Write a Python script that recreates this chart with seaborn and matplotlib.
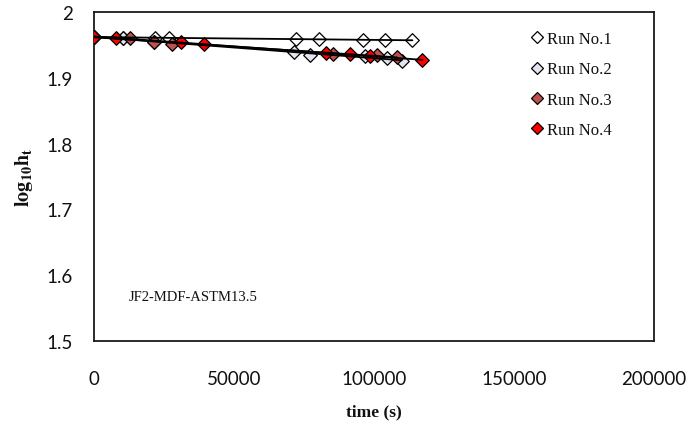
import matplotlib
matplotlib.use("Agg")
import matplotlib.pyplot as plt
from matplotlib.lines import Line2D
import numpy as np
import pandas as pd
import seaborn as sns

# Falling-head runs: elapsed time (s) and log10 of head
run1_t = [0, 10400, 21700, 26800, 72200, 80400, 96200, 103900, 113700]
run1_h = [1.962, 1.961, 1.961, 1.961, 1.959, 1.959, 1.958, 1.957, 1.957]

run2_t = [0, 10500, 21500, 71400, 77000, 96800, 104500, 109900]
run2_h = [1.962, 1.960, 1.955, 1.939, 1.935, 1.933, 1.930, 1.925]

run3_t = [0, 12700, 21400, 27800, 85500, 101000, 108200]
run3_h = [1.962, 1.960, 1.955, 1.952, 1.936, 1.935, 1.931]

run4_t = [0, 7700, 31000, 39400, 82800, 91400, 98600, 117300]
run4_h = [1.962, 1.961, 1.954, 1.952, 1.937, 1.936, 1.933, 1.927]

run_names = ["Run No.1", "Run No.2", "Run No.3", "Run No.4"]
run_colors = ["#FFFFFF", "#E4E4F0", "#C0504D", "#FF0000"]

x_ticks = [0, 50000, 100000, 150000, 200000]
y_ticks = [1.5, 1.6, 1.7, 1.8, 1.9, 2.0]
y_tick_labels = ["1.5", "1.6", "1.7", "1.8", "1.9", "2"]

sns.set_theme(style="white")
plt.rcParams["mathtext.fontset"] = "stix"

frames = []
for name, t, h in zip(run_names, [run1_t, run2_t, run3_t, run4_t],
                      [run1_h, run2_h, run3_h, run4_h]):
    frames.append(pd.DataFrame({"time": t, "logh": h, "run": name}))
df = pd.concat(frames, ignore_index=True)

fig = plt.figure(figsize=(6.95, 4.35), dpi=100)
ax = fig.add_axes([0.1353, 0.2138, 0.8057, 0.7562])

palette = dict(zip(run_names, run_colors))
for name in run_names:
    sub = df[df["run"] == name]
    sns.scatterplot(data=sub, x="time", y="logh", marker="D", s=48,
                    color=palette[name], edgecolor="black", linewidth=0.9,
                    ax=ax, zorder=3, legend=False)

# Linear trend lines for each run
for name in run_names:
    sub = df[df["run"] == name]
    sns.regplot(data=sub, x="time", y="logh", scatter=False, ci=None,
                truncate=True, ax=ax,
                line_kws={"color": "black", "linewidth": 1.3, "zorder": 4})

ax.set_xlim(0, 200000)
ax.set_ylim(1.5, 2.0)
ax.set_xticks(x_ticks)
ax.set_xticklabels([str(v) for v in x_ticks])
ax.set_yticks(y_ticks)
ax.set_yticklabels(y_tick_labels)

for s in ax.spines.values():
    s.set_visible(True)
    s.set_color("#1a1a1a")
    s.set_linewidth(1.3)

ax.tick_params(axis="both", which="major", direction="out", length=4,
               width=0.8, color="#888888", labelsize=13.5,
               labelcolor="#111111")
ax.tick_params(axis="x", pad=17)
ax.tick_params(axis="y", pad=11.5)
for lab in ax.get_xticklabels() + ax.get_yticklabels():
    lab.set_family("Lato")

ax.set_xlabel("time (s)", family="Liberation Serif", fontweight="bold",
              fontsize=12.5, labelpad=12, color="#111111")
ax.set_ylabel(r"$\mathbf{log_{10}h_t}$", fontsize=14.5, labelpad=8,
              color="#111111")

ax.text(12500, 1.567, "JF2-MDF-ASTM13.5", family="Liberation Serif",
        fontsize=10.5, color="#111111", va="center", ha="left")

handles = [Line2D([], [], linestyle="none", marker="D", markersize=6.5,
                  markerfacecolor=c, markeredgecolor="black",
                  markeredgewidth=0.9)
           for c in run_colors]
leg = ax.legend(handles, run_names, loc="upper left",
                bbox_to_anchor=(0.75, 0.987), frameon=False,
                prop={"family": "Liberation Serif", "size": 12},
                handletextpad=0.05, labelspacing=0.85, handlelength=1.0)
for t in leg.get_texts():
    t.set_color("#111111")

ax.grid(False)
fig.savefig("out.png", dpi=100)
